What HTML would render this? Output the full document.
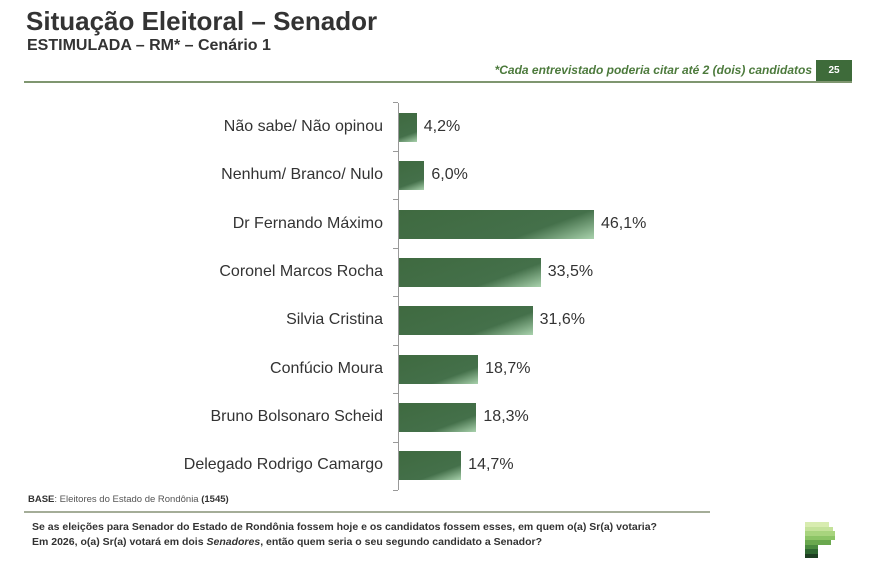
<!DOCTYPE html>
<html><head><meta charset="utf-8"><style>
body{margin:0;width:874px;height:587px;background:#fff;position:relative;overflow:hidden;font-family:"Liberation Sans",sans-serif;}
.a{position:absolute;white-space:nowrap;}
.lbl{position:absolute;right:491px;font-size:16px;color:#333;line-height:18px;}
.val{position:absolute;font-size:16px;color:#333;line-height:18px;}
.bar{position:absolute;left:399px;height:29px;background:linear-gradient(160deg,#3f6a40 0%,#44704a 70%,#a9d2ad 100%);}
</style></head><body>
<div class="a" style="left:26px;top:6px;font-size:26px;font-weight:bold;color:#333;">Situação Eleitoral – Senador</div>
<div class="a" style="left:27px;top:37px;font-size:16px;font-weight:bold;color:#333;">ESTIMULADA – RM* – Cenário 1</div>
<div class="a" style="right:62px;top:63px;font-size:12px;font-weight:bold;font-style:italic;color:#4c7a3c;">*Cada entrevistado poderia citar até 2 (dois) candidatos</div>
<div class="a" style="left:816px;top:60px;width:36px;height:22px;background:#3e6b3a;color:#fff;font-size:10px;font-weight:bold;text-align:center;line-height:22px;">25</div>
<div class="a" style="left:24px;top:81px;width:828px;height:2px;background:#7f9670;"></div>
<div class="a" style="left:398px;top:103px;width:1px;height:387px;background:#999;"></div>
<div id="c"></div>
<script>
var d=[["Não sabe/ Não opinou",4.2],["Nenhum/ Branco/ Nulo",6.0],["Dr Fernando Máximo",46.1],["Coronel Marcos Rocha",33.5],["Silvia Cristina",31.6],["Confúcio Moura",18.7],["Bruno Bolsonaro Scheid",18.3],["Delegado Rodrigo Camargo",14.7]];
var h="";
for(var i=0;i<9;i++){h+='<div class="a" style="left:393px;top:'+(102+i*48.5)+'px;width:5px;height:1px;background:#999"></div>';}
d.forEach(function(r,i){var y=113+i*48.3,w=r[1]*4.23;
h+='<div class="bar" style="top:'+y+'px;width:'+w+'px"></div>';
h+='<div class="lbl" style="top:'+(y+5)+'px">'+r[0]+'</div>';
h+='<div class="val" style="left:'+(399+w+7)+'px;top:'+(y+5)+'px">'+r[1].toFixed(1).replace(".",",")+'%</div>';});
document.getElementById("c").innerHTML=h;
</script>
<div class="a" style="left:28px;top:494px;font-size:9.5px;color:#555;"><b style="color:#333">BASE</b>: Eleitores do Estado de Rondônia <b style="color:#333">(1545)</b></div>
<div class="a" style="left:24px;top:511px;width:686px;height:2px;background:#a4ad98;"></div>
<div class="a" style="left:32px;top:520px;font-size:10.5px;font-weight:bold;color:#333;line-height:15px;">Se as eleições para Senador do Estado de Rondônia fossem hoje e os candidatos fossem esses, em quem o(a) Sr(a) votaria?<br>Em 2026, o(a) Sr(a) votará em dois <i>Senadores</i>, então quem seria o seu segundo candidato a Senador?</div>
<div class="a" style="left:805px;top:522px;">
<div style="width:24px;height:4.5px;background:#d8ecb0"></div>
<div style="width:28px;height:4.5px;background:#c4e29a"></div>
<div style="width:30px;height:4.5px;background:#a8d47e"></div>
<div style="width:30px;height:4.5px;background:#8cc466"></div>
<div style="width:26px;height:4.5px;background:#6aa84e"></div>
<div style="width:13px;height:4.5px;background:#4a8a3e"></div>
<div style="width:13px;height:4.5px;background:#2e6630"></div>
<div style="width:13px;height:4.5px;background:#1e3e22"></div>
</div>
</body></html>
